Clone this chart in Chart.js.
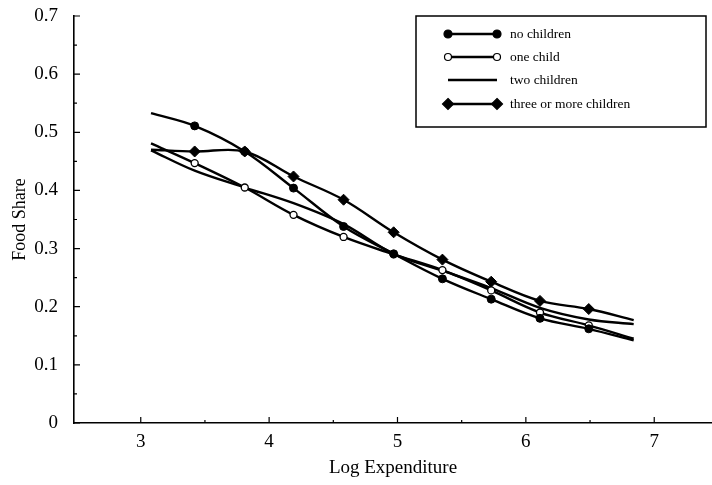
<!DOCTYPE html>
<html>
<head>
<meta charset="utf-8">
<script src="https://cdn.jsdelivr.net/npm/chart.js@4.4.1/dist/chart.umd.min.js"></script>
<style>
html,body{margin:0;padding:0;background:#fff;}
#wrap{width:712px;height:485px;}
</style>
</head>
<body>
<div id="wrap"><canvas id="c" width="712" height="485"></canvas></div>
<script>
// ---- data ----
const logExpenditure = [3.08, 3.42, 3.81, 4.19, 4.58, 4.97, 5.35, 5.73, 6.11, 6.49, 6.84];
const noChildren     = [0.533, 0.511, 0.467, 0.404, 0.338, 0.291, 0.248, 0.213, 0.180, 0.162, 0.142];
const oneChild       = [0.481, 0.447, 0.405, 0.358, 0.320, 0.290, 0.263, 0.228, 0.190, 0.168, 0.145];
const twoChildren    = [0.469, 0.434, 0.405, 0.378, 0.342, 0.291, 0.262, 0.232, 0.198, 0.178, 0.170];
const threeOrMore    = [0.470, 0.467, 0.467, 0.424, 0.384, 0.328, 0.281, 0.243, 0.210, 0.196, 0.177];
const seriesNames    = ["no children", "one child", "two children", "three or more children"];
const xTickValues    = [3, 4, 5, 6, 7];
const yTickValues    = [0, 0.1, 0.2, 0.3, 0.4, 0.5, 0.6, 0.7];

const INK = '#000';
const SERIF = '"Liberation Serif", "DejaVu Serif", serif';

function pts(ys){ return logExpenditure.map((x,i)=>({x:x, y:ys[i]})); }
function markerRadius(r){ return logExpenditure.map((_,i)=> (i===0 || i===logExpenditure.length-1) ? 0 : r); }

const styles = [
  {pointStyle:'circle',  radius:4,   bg:INK},
  {pointStyle:'circle',  radius:3.5, bg:'#fff'},
  {pointStyle:false,     radius:0,   bg:INK},
  {pointStyle:'rectRot', radius:5.5, bg:INK}
];
const allSeries = [noChildren, oneChild, twoChildren, threeOrMore];

const datasets = allSeries.map((ys, k) => ({
  label: seriesNames[k],
  data: pts(ys),
  borderColor: INK,
  borderWidth: 2.4,
  backgroundColor: styles[k].bg,
  pointBackgroundColor: styles[k].bg,
  pointBorderColor: INK,
  pointBorderWidth: k===1 ? 1.3 : 1,
  pointStyle: styles[k].pointStyle || 'circle',
  pointRadius: markerRadius(styles[k].radius),
  pointHoverRadius: 0,
  tension: 0.35,
  fill: false
}));

const inwardTicks = {
  id: 'inwardTicks',
  afterDraw(chart){
    const ctx = chart.ctx, xs = chart.scales.x, ys = chart.scales.y;
    const a = chart.chartArea;
    ctx.save();
    ctx.strokeStyle = INK;
    ctx.lineWidth = 1.2;
    ctx.beginPath();
    for (let v = 0; v <= 0.7001; v += 0.05) {
      const py = ys.getPixelForValue(v);
      const major = Math.abs(Math.round(v*10) - v*10) < 1e-6;
      const len = major ? 6 : 3;
      ctx.moveTo(a.left, py); ctx.lineTo(a.left + len, py);
    }
    for (let v = 3; v <= 7.0001; v += 0.5) {
      const px = xs.getPixelForValue(v);
      const major = Math.abs(Math.round(v) - v) < 1e-6;
      const len = major ? 6 : 3;
      ctx.moveTo(px, a.bottom); ctx.lineTo(px, a.bottom - len);
    }
    ctx.stroke();
    ctx.restore();
  }
};

const boxLegend = {
  id: 'boxLegend',
  afterDraw(chart){
    const ctx = chart.ctx;
    const bx = 416, by = 16, bw = 290, bh = 111;
    ctx.save();
    ctx.fillStyle = '#fff';
    ctx.fillRect(bx, by, bw, bh);
    ctx.strokeStyle = INK;
    ctx.lineWidth = 1.5;
    ctx.strokeRect(bx, by, bw, bh);
    const rows = [34, 57, 80, 104];
    const x0 = 448, x1 = 497;
    ctx.font = '13.5px ' + SERIF;
    ctx.textBaseline = 'middle';
    rows.forEach((ry, k) => {
      ctx.strokeStyle = INK;
      ctx.lineWidth = 2.4;
      ctx.beginPath(); ctx.moveTo(x0, ry); ctx.lineTo(x1, ry); ctx.stroke();
      const st = styles[k];
      if (st.pointStyle) {
        ctx.fillStyle = st.bg; ctx.strokeStyle = INK; ctx.lineWidth = 1.2;
        [x0, x1].forEach(px => {
          ctx.beginPath();
          if (st.pointStyle === 'circle') {
            ctx.arc(px, ry, st.radius, 0, Math.PI*2);
          } else {
            ctx.moveTo(px, ry - st.radius); ctx.lineTo(px + st.radius, ry);
            ctx.lineTo(px, ry + st.radius); ctx.lineTo(px - st.radius, ry); ctx.closePath();
          }
          ctx.fill(); ctx.stroke();
        });
      }
      ctx.fillStyle = INK;
      ctx.fillText(seriesNames[k], 510, ry);
    });
    ctx.restore();
  }
};

new Chart(document.getElementById('c'), {
  type: 'line',
  data: { datasets },
  options: {
    responsive: false,
    animation: false,
    devicePixelRatio: 1,
    layout: { padding: { top: 16, left: 0, right: 0, bottom: 0 } },
    plugins: { legend: { display: false }, tooltip: { enabled: false } },
    scales: {
      x: {
        type: 'linear',
        min: 2.48, max: 7.45,
        afterBuildTicks: s => { s.ticks = xTickValues.map(v => ({value: v})); },
        grid: { display: false, drawTicks: false },
        border: { display: true, color: INK, width: 1.6 },
        ticks: { color: INK, font: { family: SERIF, size: 19 }, padding: 8, maxRotation: 0,
                 callback: v => String(v) },
        title: { display: true, text: 'Log Expenditure', color: INK,
                 font: { family: SERIF, size: 19 }, padding: { top: 0, bottom: 6 } },
        afterFit: s => { s.height = 62; s.paddingLeft = 0; s.paddingRight = 0; }
      },
      y: {
        type: 'linear',
        min: 0, max: 0.7,
        afterBuildTicks: s => { s.ticks = yTickValues.map(v => ({value: v})); },
        grid: { display: false, drawTicks: false },
        border: { display: true, color: INK, width: 1.6 },
        ticks: { color: INK, font: { family: SERIF, size: 19 }, padding: 16,
                 callback: v => (v === 0 ? '0' : Number(v).toFixed(1)) },
        title: { display: true, text: 'Food Share', color: INK,
                 font: { family: SERIF, size: 18 }, padding: { top: 9, bottom: 0 } },
        afterFit: s => { s.width = 74; s.paddingTop = 0; s.paddingBottom = 0; }
      }
    }
  },
  plugins: [inwardTicks, boxLegend]
});
</script>
</body>
</html>
